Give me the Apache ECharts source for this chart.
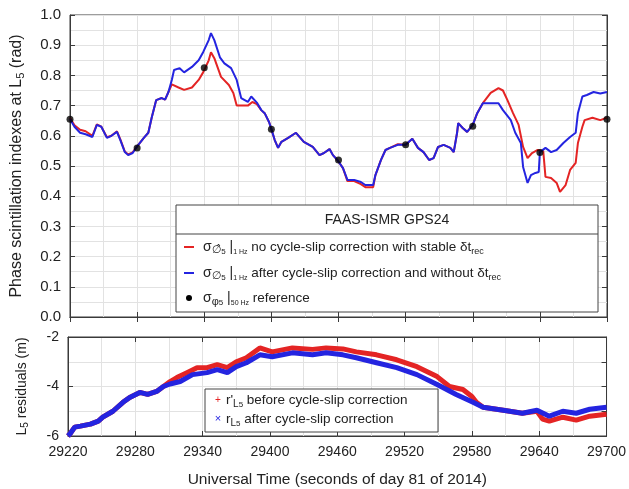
<!DOCTYPE html>
<html>
<head>
<meta charset="utf-8">
<script src="https://cdn.jsdelivr.net/npm/echarts@6/dist/echarts.min.js"></script>
<style>
  html, body { margin: 0; padding: 0; background: #fff; }
  #chart { width: 629px; height: 489px; }
</style>
</head>
<body>
<div id="chart"></div>
<script>
// phase scintillation, no cycle-slip correction (red)
const noCorrTime = [29220, 29224, 29229, 29234, 29240, 29244, 29248, 29253, 29257, 29262, 29265, 29269, 29272, 29276, 29280, 29286, 29290, 29293, 29297, 29302, 29305, 29308, 29311, 29317, 29322, 29329, 29335, 29339, 29344, 29346, 29349, 29355, 29362, 29366, 29369, 29379, 29383, 29387, 29391, 29394, 29398, 29400, 29403, 29406, 29409, 29415, 29422, 29429, 29437, 29443, 29447, 29452, 29455, 29459, 29464, 29468, 29474, 29480, 29484, 29491, 29493, 29498, 29502, 29506, 29513, 29520, 29526, 29531, 29536, 29541, 29545, 29549, 29554, 29560, 29563, 29566, 29567, 29571, 29575, 29580, 29584, 29589, 29596, 29603, 29607, 29611, 29616, 29621, 29625, 29629, 29633, 29638, 29643, 29645, 29650, 29655, 29658, 29663, 29667, 29672, 29674, 29678, 29680, 29687, 29694, 29700]
const noCorrSigma = [0.66, 0.635, 0.62, 0.615, 0.60, 0.638, 0.63, 0.595, 0.60, 0.615, 0.588, 0.548, 0.538, 0.545, 0.565, 0.593, 0.61, 0.66, 0.718, 0.725, 0.72, 0.745, 0.77, 0.76, 0.752, 0.76, 0.785, 0.81, 0.85, 0.877, 0.857, 0.795, 0.768, 0.742, 0.70, 0.70, 0.712, 0.705, 0.685, 0.675, 0.645, 0.622, 0.586, 0.56, 0.58, 0.593, 0.61, 0.58, 0.563, 0.536, 0.543, 0.556, 0.536, 0.52, 0.493, 0.45, 0.45, 0.44, 0.43, 0.43, 0.47, 0.52, 0.553, 0.56, 0.572, 0.57, 0.59, 0.56, 0.546, 0.52, 0.526, 0.563, 0.57, 0.56, 0.546, 0.61, 0.642, 0.626, 0.613, 0.636, 0.675, 0.708, 0.742, 0.758, 0.75, 0.718, 0.675, 0.636, 0.563, 0.526, 0.543, 0.553, 0.55, 0.464, 0.46, 0.444, 0.414, 0.437, 0.487, 0.51, 0.576, 0.63, 0.652, 0.66, 0.652, 0.66]

// phase scintillation, after cycle-slip correction (blue)
const corrTime = [29220, 29224, 29229, 29234, 29240, 29244, 29248, 29253, 29257, 29262, 29265, 29269, 29272, 29276, 29280, 29286, 29290, 29293, 29297, 29302, 29305, 29308, 29311, 29313, 29318, 29322, 29329, 29335, 29339, 29344, 29346, 29349, 29354, 29358, 29364, 29369, 29373, 29379, 29382, 29387, 29391, 29394, 29398, 29400, 29403, 29406, 29409, 29415, 29422, 29429, 29437, 29443, 29447, 29452, 29455, 29459, 29464, 29468, 29474, 29480, 29484, 29491, 29493, 29498, 29502, 29506, 29513, 29520, 29526, 29531, 29536, 29541, 29545, 29549, 29554, 29560, 29563, 29566, 29567, 29571, 29575, 29580, 29584, 29589, 29596, 29603, 29607, 29614, 29618, 29623, 29625, 29629, 29632, 29636, 29639, 29640, 29645, 29650, 29655, 29661, 29667, 29672, 29674, 29678, 29682, 29688, 29694, 29700]
const corrSigma = [0.655, 0.63, 0.61, 0.605, 0.596, 0.636, 0.63, 0.593, 0.60, 0.613, 0.586, 0.546, 0.536, 0.543, 0.565, 0.593, 0.61, 0.66, 0.718, 0.725, 0.72, 0.745, 0.785, 0.818, 0.824, 0.81, 0.828, 0.85, 0.877, 0.917, 0.94, 0.917, 0.86, 0.84, 0.824, 0.785, 0.725, 0.712, 0.73, 0.71, 0.685, 0.675, 0.645, 0.622, 0.586, 0.56, 0.58, 0.593, 0.61, 0.58, 0.563, 0.536, 0.543, 0.556, 0.536, 0.52, 0.493, 0.454, 0.454, 0.447, 0.437, 0.437, 0.47, 0.52, 0.553, 0.56, 0.57, 0.57, 0.59, 0.56, 0.546, 0.52, 0.526, 0.563, 0.57, 0.56, 0.546, 0.61, 0.642, 0.626, 0.613, 0.636, 0.675, 0.708, 0.708, 0.708, 0.685, 0.652, 0.61, 0.576, 0.497, 0.444, 0.47, 0.477, 0.48, 0.546, 0.56, 0.546, 0.553, 0.576, 0.596, 0.61, 0.675, 0.73, 0.735, 0.745, 0.74, 0.745]

// 50 Hz reference
const refTime = [29220, 29280, 29340, 29400, 29460, 29520, 29580, 29640, 29700]
const refSigma = [0.655, 0.56, 0.825, 0.622, 0.52, 0.57, 0.632, 0.545, 0.655]

// L5 residuals
const resBeforeTime = [29220, 29222, 29226, 29231, 29240, 29247, 29251, 29260, 29269, 29275, 29284, 29291, 29299, 29305, 29311, 29317, 29326, 29335, 29344, 29353, 29362, 29370, 29379, 29391, 29402, 29420, 29438, 29450, 29465, 29477, 29495, 29513, 29531, 29549, 29560, 29572, 29580, 29584, 29590, 29608, 29625, 29638, 29643, 29649, 29661, 29673, 29685, 29700]
const resBefore = [-6.0, -5.9, -5.64, -5.6, -5.52, -5.4, -5.24, -5.0, -4.64, -4.44, -4.24, -4.32, -4.2, -4.0, -3.8, -3.64, -3.44, -3.24, -3.24, -3.12, -3.24, -3.0, -2.84, -2.44, -2.6, -2.44, -2.5, -2.44, -2.48, -2.6, -2.72, -2.92, -3.2, -3.6, -4.0, -4.12, -4.4, -4.64, -4.84, -4.96, -5.08, -5.0, -5.32, -5.4, -5.24, -5.36, -5.2, -5.12]
const resAfterTime = [29220, 29222, 29226, 29231, 29240, 29247, 29251, 29260, 29269, 29275, 29284, 29291, 29299, 29305, 29311, 29320, 29331, 29344, 29353, 29362, 29370, 29379, 29391, 29402, 29420, 29438, 29450, 29465, 29477, 29495, 29513, 29531, 29549, 29566, 29581, 29590, 29608, 29625, 29638, 29649, 29661, 29673, 29685, 29700]
const resAfter = [-6.0, -5.9, -5.64, -5.6, -5.52, -5.4, -5.24, -5.0, -4.64, -4.44, -4.24, -4.32, -4.2, -4.0, -3.9, -3.8, -3.52, -3.44, -3.32, -3.44, -3.2, -3.04, -2.72, -2.8, -2.64, -2.72, -2.64, -2.72, -2.84, -3.04, -3.24, -3.52, -3.92, -4.32, -4.64, -4.84, -4.96, -5.08, -4.96, -5.2, -5.0, -5.08, -4.92, -4.84]

const RED = '#e42424'
const BLUE = '#2424e0'
const FONT = "'Liberation Sans', Arial, sans-serif"
const AXIS = '#3a3a3a'
const GRIDC = '#e2e2e2'

const zip = (xs, ys) => xs.map((x, i) => [x, ys[i]])

let chart = echarts.init(document.getElementById('chart'))

function xAx(grid, showLabel) {
  return {
    type: 'value', gridIndex: grid, min: 29220, max: 29700, interval: 60,
    axisLine: { lineStyle: { color: AXIS } },
    axisTick: { inside: true, length: 5, lineStyle: { color: AXIS } },
    axisLabel: { show: showLabel, color: '#222', fontSize: 14, fontFamily: FONT, margin: 9, formatter: v => String(v) },
    splitLine: { show: true, lineStyle: { color: GRIDC } },
    minorTick: { show: false, splitNumber: 2 },
    minorSplitLine: { show: true, lineStyle: { color: GRIDC } },
  }
}
function xMirror(grid) {
  return {
    type: 'value', gridIndex: grid, position: 'top', min: 29220, max: 29700, interval: 60,
    axisLine: { lineStyle: { color: AXIS } },
    axisTick: { inside: true, length: 5, lineStyle: { color: AXIS } },
    axisLabel: { show: false }, splitLine: { show: false },
  }
}

const subStyle = { fontSize: 11, fontFamily: FONT, fill: '#222', verticalAlign: 'bottom', lineHeight: 11 }

chart.setOption({
  animation: false,
  grid: [
    { left: 68, right: 22, top: 15, height: 302, show: true, borderColor: AXIS, borderWidth: 1 },
    { left: 68, right: 22, top: 337, height: 100, show: true, borderColor: AXIS, borderWidth: 1 },
  ],
  xAxis: [
    xAx(0, false),
    Object.assign(xAx(1, true), {
      name: 'Universal Time (seconds of day 81 of 2014)',
      nameLocation: 'middle', nameGap: 36,
      nameTextStyle: { fontSize: 15.5, color: '#222', fontFamily: FONT },
    }),
    xMirror(0),
    xMirror(1),
  ],
  yAxis: [
    {
      type: 'value', gridIndex: 0, min: 0, max: 1, interval: 0.1,
      name: 'Phase scintillation indexes at L{sub|5} (rad)',
      nameLocation: 'middle', nameGap: 44, nameRotate: 90,
      nameTextStyle: { fontSize: 16, color: '#222', fontFamily: FONT, lineHeight: 18, rich: { sub: subStyle } },
      axisLine: { lineStyle: { color: AXIS } },
      axisTick: { inside: true, length: 5, lineStyle: { color: AXIS } },
      axisLabel: { color: '#222', fontSize: 15, fontFamily: FONT, margin: 9, formatter: v => v.toFixed(1) },
      splitLine: { show: true, lineStyle: { color: GRIDC } },
      minorTick: { show: false, splitNumber: 2 },
      minorSplitLine: { show: true, lineStyle: { color: GRIDC } },
    },
    {
      type: 'value', gridIndex: 1, min: -6, max: -2, interval: 2,
      name: 'L{sub|5} residuals (m)',
      nameLocation: 'middle', nameGap: 38, nameRotate: 90,
      nameTextStyle: { fontSize: 14, color: '#222', fontFamily: FONT, lineHeight: 16, rich: { sub: { ...subStyle, fontSize: 10, lineHeight: 10 } } },
      axisLine: { lineStyle: { color: AXIS } },
      axisTick: { inside: true, length: 5, lineStyle: { color: AXIS } },
      axisLabel: { color: '#222', fontSize: 14, fontFamily: FONT, margin: 9 },
      splitLine: { show: true, lineStyle: { color: GRIDC } },
      minorTick: { show: false, splitNumber: 2 },
      minorSplitLine: { show: true, lineStyle: { color: GRIDC } },
    },
    {
      type: 'value', gridIndex: 0, position: 'right', min: 0, max: 1, interval: 0.1,
      axisLine: { lineStyle: { color: AXIS } },
      axisTick: { inside: true, length: 5, lineStyle: { color: AXIS } },
      axisLabel: { show: false }, splitLine: { show: false },
    },
    {
      type: 'value', gridIndex: 1, position: 'right', min: -6, max: -2, interval: 1,
      axisLine: { lineStyle: { color: AXIS } },
      axisTick: { inside: true, length: 5, lineStyle: { color: AXIS } },
      axisLabel: { show: false }, splitLine: { show: false },
    },
  ],
  series: [
    {
      type: 'line', xAxisIndex: 0, yAxisIndex: 0, data: zip(noCorrTime, noCorrSigma),
      showSymbol: false, lineStyle: { color: RED, width: 2 }, z: 3,
    },
    {
      type: 'line', xAxisIndex: 0, yAxisIndex: 0, data: zip(corrTime, corrSigma),
      showSymbol: false, lineStyle: { color: BLUE, width: 2 }, z: 4,
    },
    {
      type: 'scatter', xAxisIndex: 0, yAxisIndex: 0, data: zip(refTime, refSigma),
      symbol: 'circle', symbolSize: 7, itemStyle: { color: '#000' }, z: 5,
    },
    {
      type: 'line', xAxisIndex: 1, yAxisIndex: 1, data: zip(resBeforeTime, resBefore),
      showSymbol: false, lineStyle: { color: RED, width: 5 }, z: 3,
    },
    {
      type: 'line', xAxisIndex: 1, yAxisIndex: 1, data: zip(resAfterTime, resAfter),
      showSymbol: false, lineStyle: { color: BLUE, width: 5 }, z: 4,
    },
  ],
  graphic: [
    // legend of the top panel
    { type: 'rect', z: 100, shape: { x: 176, y: 205, width: 422, height: 107 }, style: { fill: '#fff', stroke: '#444', lineWidth: 1 } },
    { type: 'line', z: 101, shape: { x1: 176, y1: 234, x2: 598, y2: 234 }, style: { stroke: '#444', lineWidth: 1 } },
    { type: 'text', z: 101, x: 387, y: 220, style: { text: 'FAAS-ISMR GPS24', fill: '#222', font: '14px ' + FONT, align: 'center', verticalAlign: 'middle' } },
    { type: 'line', z: 101, shape: { x1: 184, y1: 247, x2: 194, y2: 247 }, style: { stroke: RED, lineWidth: 2 } },
    { type: 'line', z: 101, shape: { x1: 184, y1: 273, x2: 194, y2: 273 }, style: { stroke: BLUE, lineWidth: 2 } },
    { type: 'circle', z: 101, shape: { cx: 189, cy: 298, r: 3 }, style: { fill: '#000' } },
    {
      type: 'text', z: 101, x: 203, y: 247,
      style: {
        text: '{m|σ}{s|∅̂}{ss|5}{m| |}{hz|1 Hz}{t| no cycle-slip correction with stable δt}{r|rec}',
        verticalAlign: 'middle', fill: '#222', font: '13px ' + FONT,
        rich: {
          m: { fontSize: 14, lineHeight: 18, fontFamily: FONT, fill: '#222' },
          s: { fontSize: 11, lineHeight: 12, verticalAlign: 'bottom', fontFamily: "'DejaVu Sans'", fill: '#222' },
          ss: { fontSize: 8, lineHeight: 8, verticalAlign: 'bottom', fontFamily: FONT, fill: '#222' },
          hz: { fontSize: 7, lineHeight: 7, verticalAlign: 'bottom', fontFamily: FONT, fill: '#222' },
          t: { fontSize: 13.5, lineHeight: 18, fontFamily: FONT, fill: '#222' },
          r: { fontSize: 9, lineHeight: 10, verticalAlign: 'bottom', fontFamily: FONT, fill: '#222' },
        },
      },
    },
    {
      type: 'text', z: 101, x: 203, y: 273,
      style: {
        text: '{m|σ}{s|∅}{ss|5}{m| |}{hz|1 Hz}{t| after cycle-slip correction and without δt}{r|rec}',
        verticalAlign: 'middle', fill: '#222', font: '13px ' + FONT,
        rich: {
          m: { fontSize: 14, lineHeight: 18, fontFamily: FONT, fill: '#222' },
          s: { fontSize: 11, lineHeight: 12, verticalAlign: 'bottom', fontFamily: "'DejaVu Sans'", fill: '#222' },
          ss: { fontSize: 8, lineHeight: 8, verticalAlign: 'bottom', fontFamily: FONT, fill: '#222' },
          hz: { fontSize: 7, lineHeight: 7, verticalAlign: 'bottom', fontFamily: FONT, fill: '#222' },
          t: { fontSize: 13.5, lineHeight: 18, fontFamily: FONT, fill: '#222' },
          r: { fontSize: 9, lineHeight: 10, verticalAlign: 'bottom', fontFamily: FONT, fill: '#222' },
        },
      },
    },
    {
      type: 'text', z: 101, x: 203, y: 298,
      style: {
        text: '{m|σ}{s|φ}{ss|5}{m| |}{hz|50 Hz}{t| reference}',
        verticalAlign: 'middle', fill: '#222', font: '13px ' + FONT,
        rich: {
          m: { fontSize: 14, lineHeight: 18, fontFamily: FONT, fill: '#222' },
          s: { fontSize: 11, lineHeight: 12, verticalAlign: 'bottom', fontFamily: FONT, fill: '#222' },
          ss: { fontSize: 8, lineHeight: 8, verticalAlign: 'bottom', fontFamily: FONT, fill: '#222' },
          hz: { fontSize: 7, lineHeight: 7, verticalAlign: 'bottom', fontFamily: FONT, fill: '#222' },
          t: { fontSize: 13.5, lineHeight: 18, fontFamily: FONT, fill: '#222' },
        },
      },
    },
    // legend of the bottom panel
    { type: 'rect', z: 100, shape: { x: 205, y: 389, width: 233, height: 43 }, style: { fill: '#fff', stroke: '#444', lineWidth: 1 } },
    { type: 'text', z: 101, x: 218, y: 400, style: { text: '+', fill: RED, font: '10px ' + FONT, align: 'center', verticalAlign: 'middle' } },
    { type: 'text', z: 101, x: 218, y: 419, style: { text: '×', fill: BLUE, font: '11px ' + FONT, align: 'center', verticalAlign: 'middle' } },
    {
      type: 'text', z: 101, x: 226, y: 400,
      style: {
        text: "{t|r'}{s|L}{ss|5}{t| before cycle-slip correction}",
        verticalAlign: 'middle', fill: '#222', font: '13px ' + FONT,
        rich: {
          t: { fontSize: 13.5, lineHeight: 18, fontFamily: FONT, fill: '#222' },
          s: { fontSize: 10, lineHeight: 11, verticalAlign: 'bottom', fontFamily: FONT, fill: '#222' },
          ss: { fontSize: 8, lineHeight: 7, verticalAlign: 'bottom', fontFamily: FONT, fill: '#222' },
        },
      },
    },
    {
      type: 'text', z: 101, x: 226, y: 419,
      style: {
        text: '{t|r}{s|L}{ss|5}{t| after cycle-slip correction}',
        verticalAlign: 'middle', fill: '#222', font: '13px ' + FONT,
        rich: {
          t: { fontSize: 13.5, lineHeight: 18, fontFamily: FONT, fill: '#222' },
          s: { fontSize: 10, lineHeight: 11, verticalAlign: 'bottom', fontFamily: FONT, fill: '#222' },
          ss: { fontSize: 8, lineHeight: 7, verticalAlign: 'bottom', fontFamily: FONT, fill: '#222' },
        },
      },
    },
  ],
})
</script>
</body>
</html>
